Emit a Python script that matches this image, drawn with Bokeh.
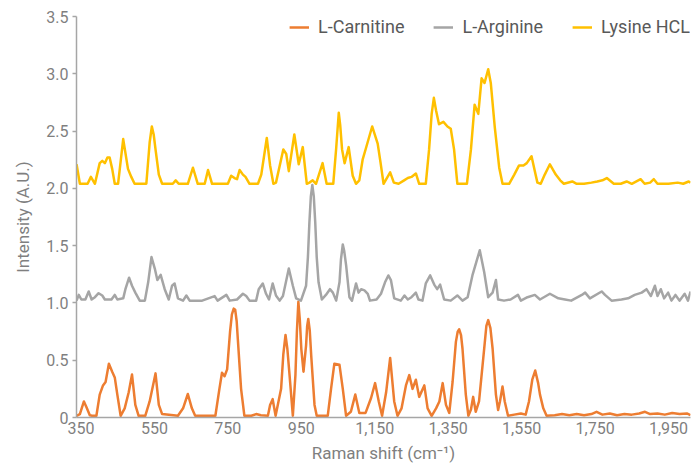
from bokeh.plotting import figure
from bokeh.models import (Range1d, FixedTicker, CustomJSTickFormatter, Title,
                          Legend, LegendItem)
from bokeh.embed import file_html
from bokeh.resources import INLINE

# ---------------- data ----------------
series_names = ["L-Carnitine", "L-Arginine", "Lysine HCL"]
series_colors = ["#ED7D31", "#A5A5A5", "#FFC000"]

carnitine_x = [338, 347, 358, 365, 374, 380, 392, 401, 410, 417, 426, 435, 442, 449, 458,
               469, 480, 489, 498, 507, 525, 537, 553, 562, 571, 614, 628, 641, 652, 661,
               716, 727, 734, 741, 748, 756, 761, 766, 770, 774, 777, 786, 795, 814, 827,
               840, 859, 865, 872, 880, 895, 901, 907, 912, 918, 927, 934, 938, 942, 946,
               950, 956, 963, 966, 969, 973, 977, 986, 992, 1022, 1031, 1040, 1054, 1063,
               1072, 1085, 1097, 1108, 1125, 1140, 1151, 1161, 1170, 1181, 1192, 1203, 1212,
               1223, 1235, 1244, 1253, 1262, 1271, 1285, 1294, 1305, 1317, 1326, 1335, 1344,
               1353, 1362, 1371, 1376, 1380, 1385, 1389, 1398, 1405, 1412, 1418, 1425, 1434,
               1448, 1454, 1459, 1465, 1471, 1480, 1486, 1491, 1498, 1504, 1513, 1530, 1548,
               1561, 1570, 1579, 1587, 1595, 1600, 1609, 1618, 1640, 1660, 1680, 1700, 1720,
               1740, 1754, 1770, 1790, 1810, 1830, 1850, 1870, 1886, 1900, 1920, 1940, 1960,
               1980, 2000, 2010]
carnitine_y = [0.015, 0.03, 0.14, 0.09, 0.02, 0.015, 0.015, 0.20, 0.28, 0.31, 0.47, 0.40, 0.35, 0.20, 0.015,
               0.08, 0.22, 0.375, 0.11, 0.015, 0.015, 0.14, 0.385, 0.11, 0.03, 0.015, 0.08, 0.205, 0.08, 0.015,
               0.015, 0.25, 0.39, 0.36, 0.42, 0.75, 0.90, 0.95, 0.94, 0.84, 0.69, 0.25, 0.015, 0.015, 0.03,
               0.02, 0.015, 0.11, 0.16, 0.015, 0.25, 0.55, 0.72, 0.60, 0.37, 0.015, 0.37, 0.75, 1.01, 0.85,
               0.60, 0.40, 0.63, 0.80, 0.86, 0.76, 0.54, 0.11, 0.015, 0.015, 0.25, 0.47, 0.46, 0.25,
               0.015, 0.05, 0.20, 0.04, 0.04, 0.17, 0.30, 0.14, 0.015, 0.22, 0.52, 0.14, 0.015,
               0.08, 0.28, 0.37, 0.25, 0.33, 0.18, 0.28, 0.08, 0.015, 0.08, 0.14, 0.30, 0.11,
               0.04, 0.31, 0.66, 0.75, 0.77, 0.72, 0.60, 0.20, 0.015, 0.07, 0.18, 0.05, 0.14,
               0.60, 0.80, 0.85, 0.78, 0.60, 0.20, 0.065, 0.14, 0.27, 0.14, 0.015, 0.025, 0.035,
               0.025, 0.14, 0.33, 0.41, 0.30, 0.20, 0.08, 0.015, 0.02, 0.03, 0.02, 0.03, 0.02,
               0.03, 0.05, 0.025, 0.035, 0.02, 0.03, 0.025, 0.035, 0.05, 0.03, 0.035, 0.025, 0.04,
               0.03, 0.035, 0.02]

arginine_x = [338, 344, 351, 362, 371, 379, 388, 398, 408, 415, 433, 442, 449, 465, 471, 481,
              489, 498, 510, 524, 533, 542, 551, 558, 567, 578, 589, 598, 605, 614, 628, 637,
              646, 680, 714, 722, 746, 755, 775, 791, 800, 809, 827, 834, 845, 854, 862, 872,
              881, 891, 900, 916, 927, 936, 949, 963, 968, 972, 976, 980, 984, 988, 992, 997,
              1006, 1017, 1028, 1036, 1045, 1054, 1058, 1063, 1067, 1072, 1081, 1088, 1099,
              1106, 1113, 1122, 1131, 1137, 1155, 1167, 1178, 1187, 1194, 1203, 1221, 1231,
              1240, 1250, 1262, 1269, 1280, 1289, 1301, 1312, 1320, 1328, 1339, 1357, 1375,
              1389, 1403, 1416, 1436, 1448, 1459, 1471, 1480, 1486, 1502, 1520, 1540, 1548,
              1566, 1586, 1600, 1627, 1650, 1668, 1685, 1714, 1723, 1736, 1768, 1777, 1795,
              1822, 1840, 1858, 1877, 1890, 1902, 1913, 1920, 1929, 1938, 1949, 1958, 1969,
              1980, 1994, 2003, 2010]
arginine_y = [1.02, 1.07, 1.03, 1.03, 1.10, 1.03, 1.05, 1.085, 1.065, 1.03, 1.03, 1.07, 1.03, 1.04, 1.12, 1.22,
              1.15, 1.09, 1.02, 1.02, 1.18, 1.40, 1.30, 1.20, 1.245, 1.12, 1.03, 1.15, 1.17, 1.04, 1.02, 1.065,
              1.02, 1.02, 1.06, 1.02, 1.07, 1.02, 1.03, 1.08, 1.06, 1.02, 1.02, 1.12, 1.17, 1.08, 1.03, 1.17,
              1.065, 1.02, 1.06, 1.30, 1.15, 1.04, 1.02, 1.15, 1.40, 1.70, 1.93, 2.03, 1.93, 1.70, 1.40, 1.18,
              1.03, 1.07, 1.12, 1.09, 1.02, 1.18, 1.38, 1.51, 1.45, 1.33, 1.05, 1.02, 1.17,
              1.09, 1.12, 1.11, 1.08, 1.02, 1.03, 1.08, 1.18, 1.24, 1.20, 1.04, 1.02, 1.065,
              1.03, 1.05, 1.09, 1.03, 1.02, 1.17, 1.24, 1.16, 1.12, 1.16, 1.03, 1.02, 1.065,
              1.02, 1.05, 1.24, 1.46, 1.27, 1.05, 1.09, 1.20, 1.03, 1.02, 1.03, 1.07, 1.02,
              1.05, 1.07, 1.03, 1.08, 1.04, 1.03, 1.02, 1.07, 1.09, 1.04, 1.10, 1.07, 1.02,
              1.03, 1.04, 1.07, 1.09, 1.12, 1.06, 1.15, 1.06, 1.12, 1.04, 1.09, 1.02, 1.07,
              1.02, 1.08, 1.02, 1.10]

lysine_x = [338, 347, 368, 377, 388, 401, 408, 415, 422, 428, 435, 442, 451, 465, 478, 487,
            496, 528, 537, 543, 548, 553, 562, 571, 600, 608, 616, 641, 655, 668, 687, 696,
            707, 750, 759, 768, 775, 782, 791, 798, 809, 832, 841, 856, 865, 874, 881, 901,
            909, 916, 931, 943, 954, 965, 972, 981, 990, 1008, 1019, 1037, 1045, 1052, 1056,
            1061, 1068, 1079, 1090, 1099, 1108, 1117, 1126, 1143, 1158, 1166, 1174, 1192,
            1202, 1215, 1230, 1240, 1250, 1262, 1271, 1289, 1298, 1305, 1311, 1317, 1325,
            1337, 1348, 1357, 1366, 1375, 1401, 1412, 1422, 1432, 1441, 1449, 1459, 1466,
            1477, 1489, 1498, 1516, 1530, 1543, 1555, 1564, 1577, 1586, 1593, 1602, 1613,
            1627, 1643, 1655, 1665, 1688, 1700, 1720, 1740, 1756, 1770, 1782, 1801, 1820,
            1836, 1850, 1874, 1885, 1900, 1910, 1920, 1950, 1975, 1990, 2005, 2010]
lysine_y = [2.21, 2.04, 2.04, 2.10, 2.04, 2.22, 2.24, 2.22, 2.27, 2.27, 2.17, 2.04, 2.04, 2.43, 2.17, 2.10,
            2.04, 2.04, 2.40, 2.54, 2.47, 2.34, 2.12, 2.04, 2.04, 2.07, 2.04, 2.04, 2.18, 2.04, 2.04, 2.16,
            2.04, 2.04, 2.11, 2.09, 2.08, 2.16, 2.12, 2.10, 2.04, 2.04, 2.12, 2.44, 2.20, 2.04, 2.05, 2.34,
            2.30, 2.15, 2.47, 2.21, 2.36, 2.04, 2.05, 2.07, 2.04, 2.22, 2.04, 2.04, 2.35, 2.66, 2.55,
            2.34, 2.22, 2.36, 2.11, 2.04, 2.07, 2.25, 2.35, 2.54, 2.39, 2.22, 2.04, 2.14,
            2.05, 2.04, 2.07, 2.09, 2.10, 2.13, 2.04, 2.04, 2.34, 2.65, 2.79, 2.68, 2.56,
            2.58, 2.54, 2.52, 2.34, 2.04, 2.04, 2.34, 2.73, 2.65, 2.96, 2.92, 3.04, 2.92,
            2.53, 2.18, 2.04, 2.04, 2.12, 2.20, 2.20, 2.22, 2.28, 2.15, 2.05, 2.04, 2.12,
            2.21, 2.12, 2.07, 2.04, 2.06, 2.04, 2.04, 2.05, 2.06, 2.07, 2.09, 2.04, 2.04,
            2.06, 2.04, 2.08, 2.04, 2.05, 2.08, 2.04, 2.04, 2.05, 2.04, 2.06, 2.05]

assert len(carnitine_x) == len(carnitine_y)
assert len(arginine_x) == len(arginine_y)
assert len(lysine_x) == len(lysine_y)

xtick_values = [350, 550, 750, 950, 1150, 1350, 1550, 1750, 1950]
xtick_labels = ["350", "550", "750", "950", "1,150", "1,350", "1,550", "1,750", "1,950"]
ytick_values = [0, 0.5, 1.0, 1.5, 2.0, 2.5, 3.0, 3.5]
ytick_labels = ["0", "0.5", "1.0", "1.5", "2.0", "2.5", "3.0", "3.5"]

x_title = "Raman shift (cm\u207b\u00b9)"
y_title = "Intensity (A.U.)"

# ---------------- figure ----------------
FONT = "Roboto"
TXT = "#7F7F7F"
AXC = "#A6A6A6"

p = figure(width=691, height=468, output_backend="svg", toolbar_location=None,
           x_range=Range1d(337.8, 2009.9), y_range=Range1d(0, 3.5),
           min_border_left=75, min_border_right=1, min_border_top=16,
           min_border_bottom=51)
p.background_fill_color = "white"
p.border_fill_color = "white"
p.outline_line_color = None
p.xgrid.visible = False
p.ygrid.visible = False

fmt_code = """
for (let i = 0; i < vals.length; i++) {
  if (Math.abs(vals[i] - tick) < 1e-9) { return labs[i]; }
}
return "";
"""

xa = p.xaxis[0]
xa.ticker = FixedTicker(ticks=xtick_values)
xa.formatter = CustomJSTickFormatter(args=dict(vals=xtick_values, labs=xtick_labels), code=fmt_code)
xa.major_tick_out = 0
xa.major_tick_in = 0
xa.minor_tick_out = 0
xa.minor_tick_in = 0
xa.axis_line_color = AXC
xa.axis_line_width = 1.5
xa.major_label_text_font = FONT
xa.major_label_text_font_size = "16px"
xa.major_label_text_color = TXT
xa.major_label_standoff = 4
xa.axis_label = x_title
xa.axis_label_text_font = FONT
xa.axis_label_text_font_size = "17px"
xa.axis_label_text_font_style = "normal"
xa.axis_label_text_color = TXT
xa.axis_label_standoff = 6

ya = p.yaxis[0]
ya.ticker = FixedTicker(ticks=ytick_values)
ya.formatter = CustomJSTickFormatter(args=dict(vals=ytick_values, labs=ytick_labels), code=fmt_code)
ya.major_tick_out = 4
ya.major_tick_in = 0
ya.minor_tick_out = 0
ya.minor_tick_in = 0
ya.major_tick_line_color = AXC
ya.major_tick_line_width = 1.5
ya.axis_line_color = AXC
ya.axis_line_width = 1.5
ya.major_label_text_font = FONT
ya.major_label_text_font_size = "16px"
ya.major_label_text_color = TXT
ya.major_label_standoff = 4

renderers = []
for xs, ys, col in [(carnitine_x, carnitine_y, series_colors[0]),
                    (arginine_x, arginine_y, series_colors[1]),
                    (lysine_x, lysine_y, series_colors[2])]:
    r = p.line(xs, ys, line_color=col, line_width=2.5, line_join="round")
    renderers.append(r)

legend = Legend(items=[LegendItem(label=n, renderers=[r]) for n, r in zip(series_names, renderers)],
                location="top_right", orientation="horizontal",
                background_fill_alpha=0, border_line_alpha=0,
                label_text_font=FONT, label_text_font_size="18px",
                label_text_color="#595959", glyph_width=20, glyph_height=14,
                label_height=14, label_standoff=9, spacing=29, padding=0, margin=0)
p.add_layout(legend)

tkw = dict(text=y_title, align="center", offset=21, text_font=FONT,
           text_font_size="17px", text_font_style="normal", text_color=TXT)
if "standoff" in Title.properties():
    tkw["standoff"] = 21
p.add_layout(Title(**tkw), "left")

open("out.html", "w").write(file_html(p, INLINE))
